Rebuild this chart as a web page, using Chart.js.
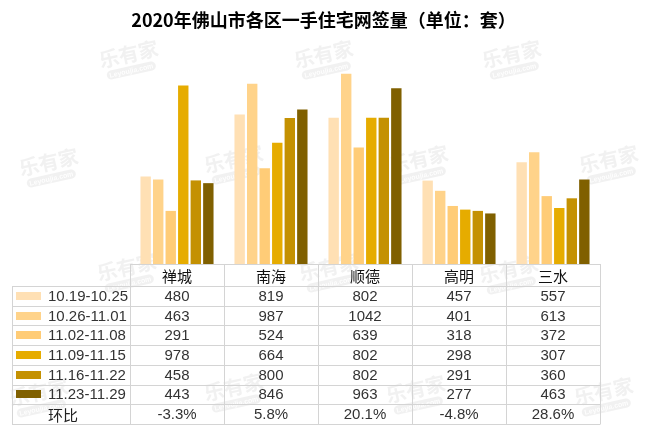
<!DOCTYPE html>
<html>
<head>
<meta charset="utf-8">
<script src="https://cdn.jsdelivr.net/npm/chart.js@4/dist/chart.umd.min.js"></script>
<style>
html,body{margin:0;padding:0;background:#fff;}
#wrap{width:647px;height:433px;position:relative;}
</style>
</head>
<body>
<div id="wrap"><canvas id="c" width="647" height="433"></canvas></div>
<script>
const titleText = '2020年佛山市各区一手住宅网签量（单位：套）';
const categories = ['禅城', '南海', '顺德', '高明', '三水'];
const weeks = ['10.19-10.25', '10.26-11.01', '11.02-11.08', '11.09-11.15', '11.16-11.22', '11.23-11.29'];
const w1 = [480, 819, 802, 457, 557];
const w2 = [463, 987, 1042, 401, 613];
const w3 = [291, 524, 639, 318, 372];
const w4 = [978, 664, 802, 298, 307];
const w5 = [458, 800, 802, 291, 360];
const w6 = [443, 846, 963, 277, 463];
const changeLabel = '环比';
const changes = ['-3.3%', '5.8%', '20.1%', '-4.8%', '28.6%'];
const colors = ['#FFE0B4', '#FFD38A', '#FFCC77', '#E6AC00', '#C49102', '#806000'];

const series = [w1, w2, w3, w4, w5, w6];
const CJK = "'Noto Sans CJK SC'";
const LAT = "'Liberation Sans', 'Noto Sans CJK SC'";

const watermarks = [
  [130, 60], [325, 60], [513, 60],
  [50, 168], [235, 165], [420, 165], [610, 165],
  [128, 273], [330, 273], [510, 275],
  [40, 398], [235, 393], [417, 395], [605, 397]
];

const bgPlugin = {
  id: 'bgmarks',
  beforeDraw(chart) {
    const ctx = chart.ctx;
    ctx.save();
    ctx.fillStyle = '#fff';
    ctx.fillRect(0, 0, chart.width, chart.height);
    watermarks.forEach(([x, y]) => {
      ctx.save();
      ctx.translate(x, y);
      ctx.rotate(-0.22);
      ctx.fillStyle = 'rgba(200,200,200,0.25)';
      ctx.font = 'bold 20px ' + CJK;
      ctx.textAlign = 'center';
      ctx.textBaseline = 'middle';
      ctx.fillText('乐有家', 0, -6);
      ctx.beginPath();
      const px = -26, py = 6, pw = 50, ph = 9, r = 4.5;
      ctx.moveTo(px + r, py);
      ctx.arcTo(px + pw, py, px + pw, py + ph, r);
      ctx.arcTo(px + pw, py + ph, px, py + ph, r);
      ctx.arcTo(px, py + ph, px, py, r);
      ctx.arcTo(px, py, px + pw, py, r);
      ctx.closePath();
      ctx.fill();
      ctx.fillStyle = 'rgba(255,255,255,0.9)';
      ctx.font = 'bold 7px ' + LAT;
      ctx.fillText('Leyoujia.com', -1, 11);
      ctx.restore();
    });
    ctx.restore();
  }
};

const tablePlugin = {
  id: 'datatable',
  afterDraw(chart) {
    const ctx = chart.ctx;
    const xs = chart.scales.x;
    const area = chart.chartArea;
    const n = categories.length;
    const half = (xs.getPixelForValue(1) - xs.getPixelForValue(0)) / 2;
    const colEdges = [];
    for (let i = 0; i < n; i++) colEdges.push(xs.getPixelForValue(i) - half);
    colEdges.push(xs.getPixelForValue(n - 1) + half);
    const left = 12;
    const top = area.bottom;
    const headH = 22;
    const rowH = 19.7;
    const nRows = weeks.length + 1;
    const bottom = top + headH + rowH * nRows;
    const right = colEdges[n];

    ctx.save();
    // title
    ctx.fillStyle = '#000';
    ctx.font = 'bold 18px ' + CJK;
    ctx.textAlign = 'center';
    ctx.textBaseline = 'middle';
    ctx.fillText(titleText, chart.width / 2, 20);

    // grid lines
    ctx.strokeStyle = '#D4D4D4';
    ctx.lineWidth = 1;
    ctx.beginPath();
    ctx.moveTo(colEdges[0], top + 0.5); ctx.lineTo(right, top + 0.5);
    for (let r = 0; r <= nRows; r++) {
      const y = Math.round(top + headH + r * rowH) + 0.5;
      ctx.moveTo(left, y); ctx.lineTo(right, y);
    }
    ctx.moveTo(left + 0.5, top + headH); ctx.lineTo(left + 0.5, Math.round(bottom) + 0.5);
    colEdges.forEach((x, i) => {
      const xx = Math.round(x) + 0.5;
      ctx.moveTo(xx, top); ctx.lineTo(xx, Math.round(bottom) + 0.5);
    });
    ctx.stroke();

    // header
    ctx.fillStyle = '#111';
    ctx.font = '15px ' + CJK;
    ctx.textAlign = 'center';
    ctx.textBaseline = 'middle';
    categories.forEach((c, i) => ctx.fillText(c, xs.getPixelForValue(i), top + headH / 2 + 1));

    // rows
    weeks.forEach((wk, r) => {
      const yc = top + headH + rowH * (r + 0.5);
      ctx.fillStyle = colors[r];
      ctx.fillRect(16, Math.round(yc) - 4, 25, 8);
      ctx.fillStyle = '#333';
      ctx.font = '15px ' + LAT;
      ctx.textAlign = 'left';
      ctx.fillText(wk, 48, yc + 1);
      ctx.textAlign = 'center';
      series[r].forEach((v, i) => ctx.fillText(String(v), xs.getPixelForValue(i), yc + 1));
    });
    const yc = top + headH + rowH * (weeks.length + 0.5);
    ctx.fillStyle = '#222';
    ctx.font = '15px ' + CJK;
    ctx.textAlign = 'left';
    ctx.fillText(changeLabel, 48, yc + 1);
    ctx.fillStyle = '#333';
    ctx.font = '15px ' + LAT;
    ctx.textAlign = 'center';
    changes.forEach((v, i) => ctx.fillText(v, xs.getPixelForValue(i), yc + 1));
    ctx.restore();
  }
};

new Chart(document.getElementById('c'), {
  type: 'bar',
  data: {
    labels: categories,
    datasets: weeks.map((wk, i) => ({
      label: wk,
      data: series[i],
      backgroundColor: colors[i],
      borderWidth: 0,
      categoryPercentage: 0.8,
      barPercentage: 0.83
    }))
  },
  options: {
    responsive: false,
    animation: false,
    devicePixelRatio: 1,
    layout: { padding: { left: 130, right: 47, top: 45, bottom: 169 } },
    plugins: {
      legend: { display: false },
      title: { display: false },
      tooltip: { enabled: false }
    },
    scales: {
      x: { display: false, grid: { display: false } },
      y: { display: false, min: 0, max: 1200, grid: { display: false } }
    }
  },
  plugins: [bgPlugin, tablePlugin]
});
</script>
</body>
</html>
